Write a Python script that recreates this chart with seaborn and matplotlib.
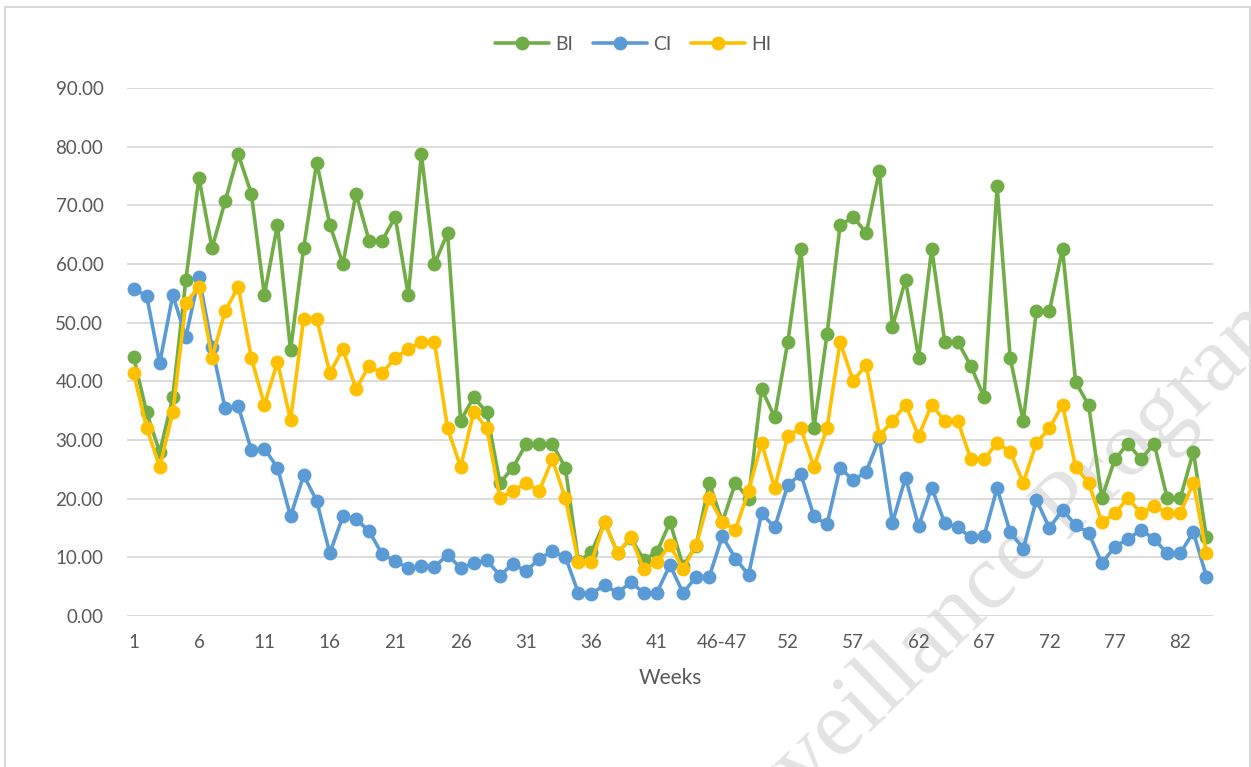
import matplotlib
matplotlib.use("Agg")
import matplotlib.pyplot as plt
import numpy as np
import pandas as pd
import seaborn as sns
from matplotlib.patches import Rectangle

# weeks on the category axis (46 and 47 were merged into one point)
WEEKS = [str(w) for w in range(1, 46)] + ["46-47"] + [str(w) for w in range(48, 85)]

BI = [44.2, 34.7, 27.9, 37.3, 57.3, 74.7, 62.7, 70.7, 78.7, 72.0,
      54.7, 66.7, 45.3, 62.7, 77.3, 66.7, 60.0, 72.0, 64.0, 64.0,
      68.0, 54.7, 78.7, 60.0, 65.3, 33.3, 37.3, 34.7, 22.7, 25.3,
      29.3, 29.3, 29.3, 25.3, 9.3, 10.9, 16.0, 10.7, 13.3, 9.6,
      10.9, 16.0, 8.5, 12.0, 22.7, 16.0, 22.7, 20.0, 38.7, 33.9,
      46.7, 62.6, 32.0, 48.0, 66.6, 68.0, 65.3, 75.9, 49.3, 57.3,
      44.0, 62.6, 46.7, 46.7, 42.6, 37.3, 73.3, 44.0, 33.2, 52.0,
      52.0, 62.6, 39.9, 35.9, 20.1, 26.7, 29.4, 26.7, 29.4, 20.1,
      20.1, 28.0, 13.4]

CI = [55.7, 54.6, 43.1, 54.7, 47.6, 57.8, 45.8, 35.4, 35.8, 28.3,
      28.5, 25.3, 17.0, 24.0, 19.6, 10.7, 17.0, 16.5, 14.5, 10.5,
      9.4, 8.1, 8.6, 8.4, 10.4, 8.2, 9.0, 9.5, 6.9, 8.9,
      7.6, 9.8, 11.0, 10.1, 3.9, 3.8, 5.3, 3.9, 5.8, 3.9,
      4.0, 8.7, 3.9, 6.7, 6.7, 13.6, 9.8, 7.0, 17.5, 15.1,
      22.3, 24.2, 17.0, 15.6, 25.3, 23.1, 24.6, 30.3, 15.9, 23.6,
      15.3, 21.9, 15.8, 15.1, 13.4, 13.6, 21.8, 14.3, 11.5, 19.8,
      15.0, 18.1, 15.5, 14.2, 9.0, 11.8, 13.1, 14.7, 13.1, 10.7,
      10.7, 14.3, 6.7]

HI = [41.4, 32.1, 25.4, 34.7, 53.4, 56.1, 44.0, 52.0, 56.1, 44.0,
      36.0, 43.3, 33.4, 50.7, 50.7, 41.4, 45.5, 38.7, 42.6, 41.4,
      44.0, 45.5, 46.7, 46.7, 32.0, 25.4, 34.8, 32.0, 20.1, 21.3,
      22.7, 21.3, 26.7, 20.1, 9.2, 9.2, 16.0, 10.7, 13.4, 8.0,
      9.2, 12.1, 8.0, 12.1, 20.1, 16.0, 14.7, 21.3, 29.5, 21.8,
      30.7, 32.0, 25.4, 32.0, 46.7, 40.1, 42.8, 30.7, 33.2, 36.0,
      30.7, 36.0, 33.2, 33.2, 26.7, 26.7, 29.5, 28.0, 22.7, 29.5,
      32.0, 36.0, 25.4, 22.7, 16.0, 17.5, 20.1, 17.5, 18.8, 17.5,
      17.5, 22.7, 10.7]

SERIES = {"BI": BI, "CI": CI, "HI": HI}
PALETTE = {"BI": "#70AD47", "CI": "#5B9BD5", "HI": "#FFC000"}
Y_TICKS = np.arange(0, 91, 10)

sns.set_theme(style="white")
plt.rcParams["font.family"] = ["Lato", "DejaVu Sans"]
TEXT_COLOR = "#595959"
GRID_COLOR = "#D9D9D9"

rows = []
for name, values in SERIES.items():
    for pos, val in enumerate(values):
        rows.append({"pos": pos, "week": WEEKS[pos], "series": name, "value": val})
df = pd.DataFrame(rows)

fig = plt.figure(figsize=(12.51, 7.67), dpi=100)
ax = fig.add_axes([127 / 1251, 1 - 616 / 767, (1213 - 127) / 1251, (616 - 88) / 767])
ax.set_facecolor("none")

sns.lineplot(
    data=df, x="pos", y="value", hue="series", palette=PALETTE,
    hue_order=list(SERIES), marker="o", markersize=10, markeredgewidth=0,
    linewidth=2.6, ax=ax,
)

ax.set_xlim(-0.5, len(WEEKS) - 0.5)
ax.set_ylim(0, 90)
ax.set_yticks(Y_TICKS)
ax.set_yticklabels([f"{v:.2f}" for v in Y_TICKS])
tick_pos = list(range(0, len(WEEKS), 5))
ax.set_xticks(tick_pos)
ax.set_xticklabels([WEEKS[p] for p in tick_pos])
ax.tick_params(axis="y", length=0, pad=17, labelsize=13.5, labelcolor=TEXT_COLOR)
ax.tick_params(axis="x", length=0, pad=13, labelsize=13.5, labelcolor=TEXT_COLOR)
ax.yaxis.grid(True, color=GRID_COLOR, linewidth=1.3)
ax.set_axisbelow(True)
for side in ["top", "right", "left", "bottom"]:
    ax.spines[side].set_visible(False)
ax.set_xlabel("Weeks", fontsize=15, color=TEXT_COLOR, labelpad=12)
ax.set_ylabel("")

handles, labels = ax.get_legend_handles_labels()
ax.get_legend().remove()
fig.legend(
    handles, labels, loc="center", bbox_to_anchor=(633 / 1251, 1 - 44 / 767),
    ncol=3, frameon=False, fontsize=14, handlelength=2.8,
    columnspacing=1.0, handletextpad=0.3, labelcolor=TEXT_COLOR,
)

# light frame around the chart (bottom edge runs off the image)
fig.patches.append(Rectangle(
    (5 / 1251, -0.1), 1245 / 1251, 1.1 - 7 / 767,
    transform=fig.transFigure, fill=False, edgecolor=GRID_COLOR,
    linewidth=1.5, zorder=-2,
))

# document watermark, cut by the image edges as in the source
fig.text(990 / 1251, 1 - 585 / 767, "Surveillance Program", rotation=44,
         rotation_mode="anchor", ha="center", va="center", fontsize=68,
         family="Liberation Serif", color="#E3E3E3", zorder=-1)

fig.savefig("out.png", dpi=100)
plt.close(fig)
